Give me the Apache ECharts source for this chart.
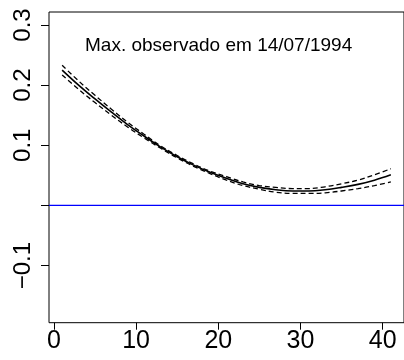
<!DOCTYPE html>
<html>
<head>
<meta charset="utf-8">
<script src="https://cdn.jsdelivr.net/npm/echarts@6/dist/echarts.min.js"></script>
<style>
html,body{margin:0;padding:0;background:#fff;}
#chart{width:404px;height:360px;}
</style>
</head>
<body>
<div id="chart"></div>
<script>
var lags = [1,3,5,7,9,11,13,15,17,19,21,23,25,27,29,31,33,35,37,39,41];
var estimate = [0.225,0.200,0.177,0.155,0.134,0.115,0.097,0.081,0.067,0.055,0.045,0.036,0.030,0.026,0.024,0.024,0.026,0.030,0.035,0.042,0.051];
var upperBand = [0.233,0.207,0.183,0.160,0.138,0.118,0.099,0.083,0.069,0.057,0.048,0.039,0.033,0.030,0.028,0.028,0.031,0.036,0.042,0.051,0.061];
var lowerBand = [0.217,0.193,0.171,0.150,0.130,0.112,0.095,0.079,0.065,0.053,0.042,0.033,0.027,0.022,0.020,0.020,0.021,0.024,0.028,0.033,0.039];
var xTicks = [0,10,20,30,40];
var yTicks = [-0.1,0,0.1,0.2,0.3];
var yLabels = [-0.1,0.1,0.2,0.3];
var referenceLevel = 0;
var annotation = 'Max. observado em 14/07/1994';

function pairs(ys){ return lags.map(function(x,i){ return [x, ys[i]]; }); }

var font = "'Liberation Sans', Arial, Helvetica, sans-serif";
var chart = echarts.init(document.getElementById('chart'), null, {renderer:'canvas'});
chart.setOption({
  animation:false,
  backgroundColor:'#ffffff',
  grid:{left:49, top:12, width:357, height:310.7, show:true, borderColor:'#000', borderWidth:1, backgroundColor:'transparent'},
  xAxis:{
    type:'value', min:-0.6, max:42.6, position:'bottom',
    axisLine:{show:false, onZero:false},
    splitLine:{show:false},
    axisTick:{show:true, inside:false, length:7, customValues:xTicks, lineStyle:{color:'#000', width:1}},
    axisLabel:{customValues:xTicks, margin:6, color:'#000', fontSize:25, fontFamily:font}
  },
  yAxis:{
    type:'value', min:-0.195, max:0.3216,
    axisLine:{show:false, onZero:false},
    splitLine:{show:false},
    axisTick:{show:true, inside:false, length:8, customValues:yTicks, lineStyle:{color:'#000', width:1}},
    axisLabel:{customValues:yLabels, rotate:90, margin:14, color:'#000', fontSize:24, fontFamily:font,
      formatter:function(v){ return (v<0?'\u2212':'') + Math.abs(v).toFixed(1); }}
  },
  graphic:[{
    type:'text', top:36, left:85,
    style:{text:annotation, font:'19px '+font, fill:'#000'}
  }],
  series:[
    {type:'line', data:pairs(estimate), smooth:0.4, symbol:'none', lineStyle:{color:'#000', width:1.6}, z:3},
    {type:'line', data:pairs(upperBand), smooth:0.4, symbol:'none', lineStyle:{color:'#000', width:1.3, type:[5,3]}, z:3},
    {type:'line', data:pairs(lowerBand), smooth:0.4, symbol:'none', lineStyle:{color:'#000', width:1.3, type:[5,3]}, z:3},
    {type:'line', data:[[-0.6,referenceLevel],[42.6,referenceLevel]], symbol:'none', silent:true,
     lineStyle:{color:'#0000ff', width:1.2}, z:2}
  ]
});
</script>
</body>
</html>
